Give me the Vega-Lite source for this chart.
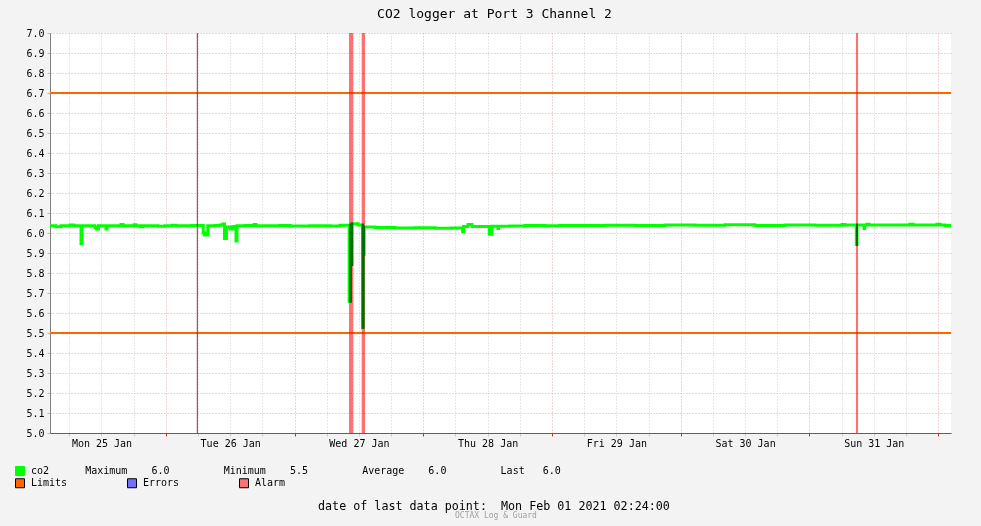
{
  "$schema": "https://vega.github.io/schema/vega-lite/v6.json",
  "width": 901,
  "height": 400,
  "autosize": {"type": "none"},
  "padding": {"left": 50, "top": 33, "right": 30, "bottom": 93},
  "background": "#F3F3F3",
  "title": {"text": "CO2 logger at Port 3 Channel 2", "font": "DejaVu Sans Mono", "fontSize": 13, "fontWeight": "normal", "color": "#000000", "anchor": "middle", "frame": "group", "dx": -6, "offset": 7},
  "datasets": {
    "limits": [{"v": 6.7}, {"v": 5.5}],
    "alarms": [
      {"start": "2021-01-27T10:09", "end": "2021-01-27T10:57", "kind": "Alarm"},
      {"start": "2021-01-27T12:31", "end": "2021-01-27T13:08", "kind": "Alarm"},
      {"start": "2021-01-31T08:41", "end": "2021-01-31T09:04", "kind": "Alarm"}
    ],
    "marker": [{"t": "2021-01-26T05:52"}],
    "co2": [
      {"t": "2021-01-25T02:24", "v": 6.036},
      {"t": "2021-01-25T03:31", "v": 6.031},
      {"t": "2021-01-25T04:27", "v": 6.036},
      {"t": "2021-01-25T06:08", "v": 6.04},
      {"t": "2021-01-25T06:52", "v": 6.036},
      {"t": "2021-01-25T08:11", "v": 5.948},
      {"t": "2021-01-25T08:22", "v": 6.036},
      {"t": "2021-01-25T10:47", "v": 6.028},
      {"t": "2021-01-25T11:05", "v": 6.02},
      {"t": "2021-01-25T11:27", "v": 6.036},
      {"t": "2021-01-25T12:50", "v": 6.02},
      {"t": "2021-01-25T13:02", "v": 6.036},
      {"t": "2021-01-25T15:38", "v": 6.043},
      {"t": "2021-01-25T16:01", "v": 6.036},
      {"t": "2021-01-25T18:04", "v": 6.041},
      {"t": "2021-01-25T18:26", "v": 6.036},
      {"t": "2021-01-25T19:11", "v": 6.031},
      {"t": "2021-01-25T19:44", "v": 6.036},
      {"t": "2021-01-25T22:32", "v": 6.034},
      {"t": "2021-01-25T23:51", "v": 6.036},
      {"t": "2021-01-26T01:09", "v": 6.039},
      {"t": "2021-01-26T01:54", "v": 6.036},
      {"t": "2021-01-26T04:53", "v": 6.037},
      {"t": "2021-01-26T06:58", "v": 6.0},
      {"t": "2021-01-26T07:15", "v": 5.99},
      {"t": "2021-01-26T07:49", "v": 6.036},
      {"t": "2021-01-26T09:10", "v": 6.037},
      {"t": "2021-01-26T10:06", "v": 6.04},
      {"t": "2021-01-26T10:39", "v": 6.045},
      {"t": "2021-01-26T10:56", "v": 5.973},
      {"t": "2021-01-26T11:18", "v": 6.03},
      {"t": "2021-01-26T11:58", "v": 6.02},
      {"t": "2021-01-26T12:31", "v": 6.032},
      {"t": "2021-01-26T13:05", "v": 5.96},
      {"t": "2021-01-26T13:16", "v": 6.036},
      {"t": "2021-01-26T14:46", "v": 6.037},
      {"t": "2021-01-26T16:26", "v": 6.042},
      {"t": "2021-01-26T16:49", "v": 6.036},
      {"t": "2021-01-26T21:17", "v": 6.038},
      {"t": "2021-01-26T23:09", "v": 6.035},
      {"t": "2021-01-27T02:53", "v": 6.036},
      {"t": "2021-01-27T06:37", "v": 6.035},
      {"t": "2021-01-27T08:28", "v": 6.039},
      {"t": "2021-01-27T10:11", "v": 5.659},
      {"t": "2021-01-27T10:26", "v": 5.843},
      {"t": "2021-01-27T10:43", "v": 6.046},
      {"t": "2021-01-27T11:50", "v": 6.04},
      {"t": "2021-01-27T12:40", "v": 5.528},
      {"t": "2021-01-27T12:48", "v": 5.894},
      {"t": "2021-01-27T12:59", "v": 6.03},
      {"t": "2021-01-27T15:00", "v": 6.028},
      {"t": "2021-01-27T18:44", "v": 6.025},
      {"t": "2021-01-27T22:28", "v": 6.026},
      {"t": "2021-01-28T02:11", "v": 6.024},
      {"t": "2021-01-28T05:21", "v": 6.025},
      {"t": "2021-01-28T07:20", "v": 6.008},
      {"t": "2021-01-28T07:30", "v": 6.033},
      {"t": "2021-01-28T08:20", "v": 6.042},
      {"t": "2021-01-28T09:05", "v": 6.033},
      {"t": "2021-01-28T12:18", "v": 5.994},
      {"t": "2021-01-28T12:47", "v": 6.034},
      {"t": "2021-01-28T13:55", "v": 6.022},
      {"t": "2021-01-28T14:04", "v": 6.034},
      {"t": "2021-01-28T16:10", "v": 6.035},
      {"t": "2021-01-28T18:58", "v": 6.038},
      {"t": "2021-01-28T22:42", "v": 6.036},
      {"t": "2021-01-29T01:30", "v": 6.038},
      {"t": "2021-01-29T07:05", "v": 6.037},
      {"t": "2021-01-29T09:53", "v": 6.039},
      {"t": "2021-01-29T15:29", "v": 6.038},
      {"t": "2021-01-29T21:04", "v": 6.04},
      {"t": "2021-01-30T02:40", "v": 6.039},
      {"t": "2021-01-30T08:16", "v": 6.041},
      {"t": "2021-01-30T13:51", "v": 6.038},
      {"t": "2021-01-30T19:27", "v": 6.04},
      {"t": "2021-01-31T01:02", "v": 6.039},
      {"t": "2021-01-31T06:05", "v": 6.043},
      {"t": "2021-01-31T06:38", "v": 6.04},
      {"t": "2021-01-31T08:45", "v": 5.943},
      {"t": "2021-01-31T08:52", "v": 6.04},
      {"t": "2021-01-31T10:11", "v": 6.023},
      {"t": "2021-01-31T10:17", "v": 6.04},
      {"t": "2021-01-31T10:44", "v": 6.044},
      {"t": "2021-01-31T11:07", "v": 6.04},
      {"t": "2021-01-31T18:45", "v": 6.044},
      {"t": "2021-01-31T19:19", "v": 6.04},
      {"t": "2021-01-31T23:47", "v": 6.044},
      {"t": "2021-02-01T00:21", "v": 6.04},
      {"t": "2021-02-01T01:17", "v": 6.037},
      {"t": "2021-02-01T02:24", "v": 6.037}
    ]
  },
  "layer": [
    {
      "data": {"name": "limits"},
      "mark": {"type": "rule", "stroke": "#FF6600", "strokeWidth": 2},
      "encoding": {
        "y": {"field": "v", "type": "quantitative", "scale": {"domain": [5, 7], "nice": false, "zero": false},
          "axis": {"tickCount": 20, "format": ".1f", "grid": true, "gridColor": "#E3A9A9", "gridDash": [1, 2], "ticks": true, "tickSize": 3, "tickColor": "#E3A9A9", "domainColor": "#808080", "labelFont": "DejaVu Sans Mono", "labelFontSize": 10, "labelColor": "#000000", "labelPadding": 3, "title": null}}
      }
    },
    {
      "data": {"name": "co2"},
      "mark": {"type": "line", "interpolate": "step-after", "strokeWidth": 3, "clip": true},
      "encoding": {
        "x": {"field": "t", "type": "temporal",
          "scale": {"domain": [{"year": 2021, "month": 1, "date": 25, "hours": 2, "minutes": 24}, {"year": 2021, "month": 2, "date": 1, "hours": 2, "minutes": 24}], "nice": false},
          "axis": {"tickCount": 28,
            "labelExpr": "hours(datum.value) == 12 ? timeFormat(datum.value, '%a %d %b') : ''",
            "labelFont": "DejaVu Sans Mono", "labelFontSize": 10, "labelColor": "#000000", "labelPadding": 2, "labelFlush": false, "labelOverlap": false, "labelBound": false,
            "ticks": true, "tickSize": 3,
            "tickColor": {"condition": {"test": "hours(datum.value) == 0", "value": "#C03030"}, "value": "#CCCCCC"},
            "grid": true, "gridDash": [1, 2],
            "gridColor": {"condition": {"test": "hours(datum.value) == 0", "value": "#E3A9A9"}, "value": "#CFCFCF"},
            "domain": true, "domainColor": "#606060",
            "title": "date of last data point:\u00a0\u00a0Mon Feb 01 2021 02:24:00\u00a0\u00a0\u200b", "titleFont": "DejaVu Sans Mono", "titleFontSize": 11.7, "titleFontWeight": "normal", "titleColor": "#000000", "titlePadding": 52}},
        "y": {"field": "v", "type": "quantitative", "scale": {"domain": [5, 7], "nice": false, "zero": false},
          "axis": {"tickCount": 20, "format": ".1f", "grid": true, "gridColor": "#E3A9A9", "gridDash": [1, 2], "ticks": true, "tickSize": 3, "tickColor": "#E3A9A9", "domainColor": "#808080", "labelFont": "DejaVu Sans Mono", "labelFontSize": 10, "labelColor": "#000000", "labelPadding": 3, "title": null}},
        "color": {"datum": "co2", "type": "nominal", "scale": {"domain": ["co2"], "range": ["#00FF00"]},
          "legend": {"orient": "none", "legendX": -35, "legendY": 433, "symbolType": "square", "symbolSize": 81, "symbolFillColor": "#00FF00", "symbolStrokeWidth": 1, "labelOffset": 6, "padding": 0, "labelLimit": 1000,
            "title": "OCTAX Log & Guard\u00a0\u00a0\u00a0\u00a0\u00a0\u200b", "titleOrient": "bottom", "titleAnchor": "end", "titlePadding": 34, "titleFont": "DejaVu Sans Mono", "titleFontSize": 8, "titleFontWeight": "normal", "titleColor": "#A0A0A0", "titleLimit": 1000,
            "labelExpr": "'co2\u00a0\u00a0\u00a0\u00a0\u00a0\u00a0Maximum\u00a0\u00a0\u00a0\u00a06.0\u00a0\u00a0\u00a0\u00a0\u00a0\u00a0\u00a0\u00a0\u00a0Minimum\u00a0\u00a0\u00a0\u00a05.5\u00a0\u00a0\u00a0\u00a0\u00a0\u00a0\u00a0\u00a0\u00a0Average\u00a0\u00a0\u00a0\u00a06.0\u00a0\u00a0\u00a0\u00a0\u00a0\u00a0\u00a0\u00a0\u00a0Last\u00a0\u00a0\u00a06.0'"}}
      }
    },
    {
      "data": {"name": "alarms"},
      "mark": {"type": "rect", "blend": "multiply"},
      "encoding": {
        "x": {"field": "start", "type": "temporal",
          "scale": {"domain": [{"year": 2021, "month": 1, "date": 25, "hours": 2, "minutes": 24}, {"year": 2021, "month": 2, "date": 1, "hours": 2, "minutes": 24}], "nice": false},
          "axis": {"tickCount": 28,
            "labelExpr": "hours(datum.value) == 12 ? timeFormat(datum.value, '%a %d %b') : ''",
            "labelFont": "DejaVu Sans Mono", "labelFontSize": 10, "labelColor": "#000000", "labelPadding": 2, "labelFlush": false, "labelOverlap": false, "labelBound": false,
            "ticks": true, "tickSize": 3,
            "tickColor": {"condition": {"test": "hours(datum.value) == 0", "value": "#C03030"}, "value": "#CCCCCC"},
            "grid": true, "gridDash": [1, 2],
            "gridColor": {"condition": {"test": "hours(datum.value) == 0", "value": "#E3A9A9"}, "value": "#CFCFCF"},
            "domain": true, "domainColor": "#606060",
            "title": "date of last data point:\u00a0\u00a0Mon Feb 01 2021 02:24:00\u00a0\u00a0\u200b", "titleFont": "DejaVu Sans Mono", "titleFontSize": 11.7, "titleFontWeight": "normal", "titleColor": "#000000", "titlePadding": 52}},
        "x2": {"field": "end"},
        "fill": {"field": "kind", "type": "nominal", "scale": {"domain": ["Limits", "Errors", "Alarm"], "range": ["#FF6600", "#7070FF", "#FF7070"]},
          "legend": {"orient": "none", "legendX": -35, "legendY": 445, "direction": "horizontal", "columns": 3, "title": null, "symbolType": "square", "symbolSize": 81, "symbolStrokeColor": "#000000", "symbolStrokeWidth": 1, "columnPadding": 57, "labelOffset": 6, "padding": 0}}
      }
    },
    {
      "data": {"name": "marker"},
      "mark": {"type": "rule", "stroke": "#8A2A5A", "strokeWidth": 1},
      "encoding": {
        "x": {"field": "t", "type": "temporal",
          "scale": {"domain": [{"year": 2021, "month": 1, "date": 25, "hours": 2, "minutes": 24}, {"year": 2021, "month": 2, "date": 1, "hours": 2, "minutes": 24}], "nice": false},
          "axis": {"tickCount": 28,
            "labelExpr": "hours(datum.value) == 12 ? timeFormat(datum.value, '%a %d %b') : ''",
            "labelFont": "DejaVu Sans Mono", "labelFontSize": 10, "labelColor": "#000000", "labelPadding": 2, "labelFlush": false, "labelOverlap": false, "labelBound": false,
            "ticks": true, "tickSize": 3,
            "tickColor": {"condition": {"test": "hours(datum.value) == 0", "value": "#C03030"}, "value": "#CCCCCC"},
            "grid": true, "gridDash": [1, 2],
            "gridColor": {"condition": {"test": "hours(datum.value) == 0", "value": "#E3A9A9"}, "value": "#CFCFCF"},
            "domain": true, "domainColor": "#606060",
            "title": "date of last data point:\u00a0\u00a0Mon Feb 01 2021 02:24:00\u00a0\u00a0\u200b", "titleFont": "DejaVu Sans Mono", "titleFontSize": 11.7, "titleFontWeight": "normal", "titleColor": "#000000", "titlePadding": 52}}
      }
    }
  ],
  "config": {
    "view": {"stroke": null, "fill": "#FFFFFF"},
    "legend": {"labelFont": "DejaVu Sans Mono", "labelFontSize": 10, "labelColor": "#000000"}
  }
}
